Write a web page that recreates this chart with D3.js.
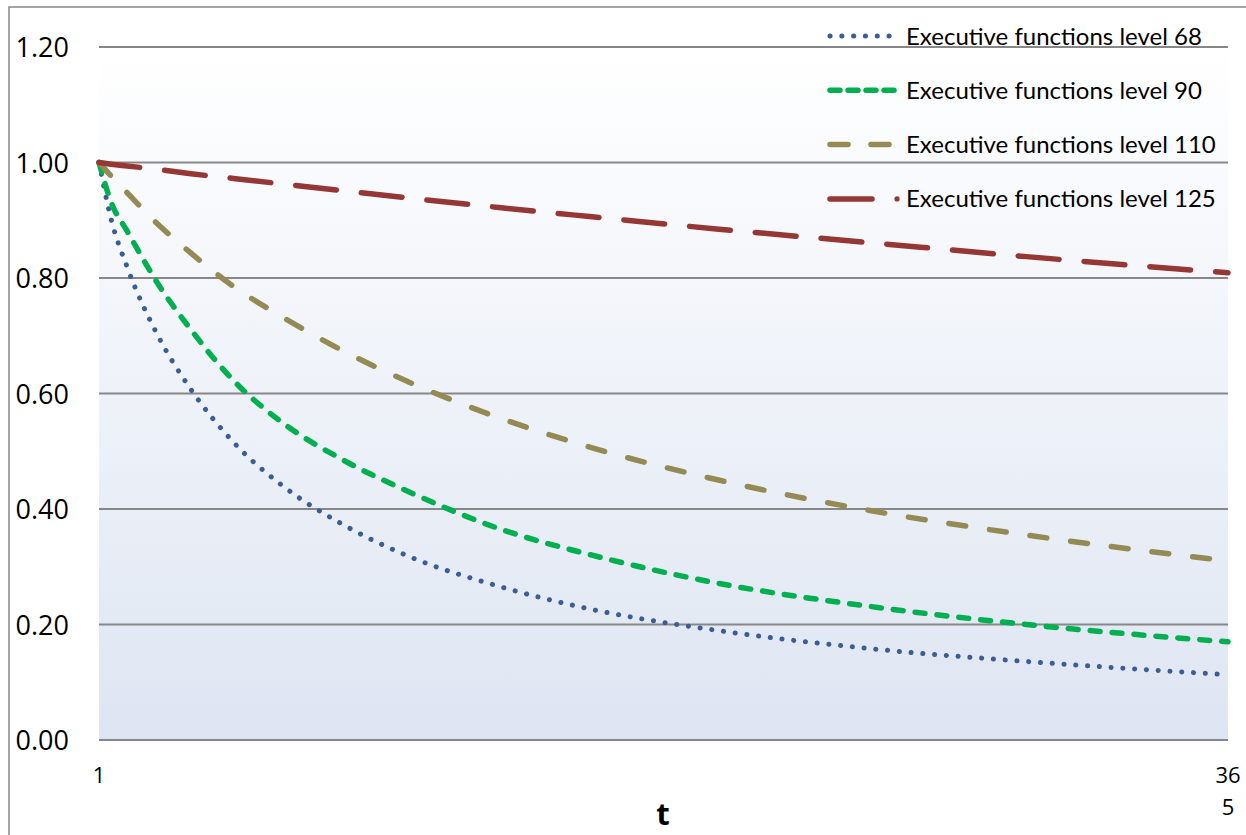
<!DOCTYPE html>
<html>
<head>
<meta charset="utf-8">
<script src="https://cdn.jsdelivr.net/npm/d3@7"></script>
<style>
  body { margin: 0; background: #fff; }
  svg { display: block; font-family: 'Open Sans', sans-serif; }
</style>
</head>
<body>
<svg width="1246" height="835"></svg>
<script>
const days = [1, 5, 10, 20, 30, 45, 60, 80, 100, 130, 160, 200, 250, 300, 365]
const level68  = [1.00, 0.90, 0.82, 0.70, 0.612, 0.512, 0.441, 0.372, 0.320, 0.266, 0.226, 0.190, 0.158, 0.136, 0.113]
const level90  = [1.00, 0.93, 0.882, 0.79, 0.715, 0.619, 0.550, 0.484, 0.432, 0.366, 0.320, 0.272, 0.231, 0.200, 0.170]
const level110 = [1.00, 0.976, 0.948, 0.893, 0.846, 0.783, 0.733, 0.673, 0.622, 0.558, 0.506, 0.451, 0.397, 0.355, 0.310]
const level125 = [1.00, 0.997, 0.994, 0.988, 0.981, 0.972, 0.963, 0.951, 0.939, 0.922, 0.906, 0.885, 0.861, 0.837, 0.809]
const yTicks = [0, 0.2, 0.4, 0.6, 0.8, 1.0, 1.2]
const xTicks = [1, 365]

const series = [
  { name: 'Executive functions level 68',  values: level68,  color: '#3a5d96', width: 5,   dash: '0.1 11.7', legendDash: '0.1 11.7' },
  { name: 'Executive functions level 90',  values: level90,  color: '#00b050', width: 5.5, dash: '10 12',    legendDash: '10 8' },
  { name: 'Executive functions level 110', values: level110, color: '#948a54', width: 5.5, dash: '17 24',    legendDash: '18 23' },
  { name: 'Executive functions level 125', values: level125, color: '#953735', width: 5.5, dash: '41 25',    legendDash: '42 100' }
]

const margin = {top: 47, left: 99, right: 18, bottom: 95}
const width = 1246 - margin.left - margin.right
const height = 835 - margin.top - margin.bottom

const svg = d3.select('svg')

// outer chart frame
svg.append('rect')
   .attr('x', 9).attr('y', 7)
   .attr('width', 1300).attr('height', 900)
   .attr('fill', 'none').attr('stroke', '#868686').attr('stroke-width', 1.5)

const grad = svg.append('defs').append('linearGradient')
   .attr('id', 'bg').attr('x1', 0).attr('y1', 0).attr('x2', 0).attr('y2', 1)
grad.append('stop').attr('offset', '0%').attr('stop-color', '#ffffff')
grad.append('stop').attr('offset', '100%').attr('stop-color', '#dee5f2')

const xScale = d3.scaleLinear().domain([1, 365]).range([0, width])
const yScale = d3.scaleLinear().domain([0, 1.2]).range([height, 0])

const g = svg.append('g').attr('transform', `translate(${margin.left},${margin.top})`)

g.append('rect')
 .attr('width', width).attr('height', height)
 .attr('fill', 'url(#bg)')

// gridlines
g.selectAll('.grid')
 .data(yTicks)
 .enter()
 .append('line')
 .attr('x1', 0).attr('x2', width)
 .attr('y1', d => yScale(d)).attr('y2', d => yScale(d))
 .attr('stroke', '#878787').attr('stroke-width', 1.8)

// y labels
const yAxis = g.append('g')
 .call(d3.axisLeft(yScale).tickValues(yTicks).tickFormat(d3.format('.2f')).tickSize(0).tickPadding(30))
yAxis.select('.domain').remove()
yAxis.selectAll('text')
 .attr('font-family', "'Open Sans', sans-serif")
 .attr('font-size', 27).attr('fill', '#000').attr('dy', '0.36em')

// x labels ("365" wraps in the original)
const xLab = g.append('g').attr('transform', `translate(0,${height})`)
xLab.append('text')
 .attr('x', xScale(xTicks[0])).attr('y', 43)
 .attr('text-anchor', 'middle').attr('font-size', 22).text(xTicks[0])
const last = String(xTicks[1])
const lastText = xLab.append('text')
 .attr('x', xScale(xTicks[1])).attr('y', 43)
 .attr('text-anchor', 'middle').attr('font-size', 22)
lastText.append('tspan').attr('x', xScale(xTicks[1])).text(last.slice(0, 2))
lastText.append('tspan').attr('x', xScale(xTicks[1])).attr('dy', 32).text(last.slice(2))

svg.append('text')
 .attr('x', 663).attr('y', 825)
 .attr('text-anchor', 'middle')
 .attr('font-size', 31).attr('font-weight', 'bold')
 .text('t')

const line = d3.line()
 .x((d, i) => xScale(days[i]))
 .y(d => yScale(d))
 .curve(d3.curveMonotoneX)

g.selectAll('.series')
 .data(series)
 .enter()
 .append('path')
 .attr('d', d => line(d.values))
 .attr('fill', 'none')
 .attr('stroke', d => d.color)
 .attr('stroke-width', d => d.width)
 .attr('stroke-dasharray', d => d.dash)
 .attr('stroke-linecap', 'round')

// legend
const legend = svg.append('g').attr('transform', 'translate(828,36)')
const items = legend.selectAll('.item')
 .data(series)
 .enter()
 .append('g')
 .attr('transform', (d, i) => `translate(0,${i * 54.3})`)
items.append('line')
 .attr('x1', 2).attr('x2', d => d.name.endsWith('125') ? 46 : 67)
 .attr('stroke', d => d.color)
 .attr('stroke-width', d => d.width)
 .attr('stroke-dasharray', d => d.legendDash)
 .attr('stroke-linecap', 'round')
items.filter(d => d.name.endsWith('125'))
 .append('circle').attr('cx', 69).attr('r', 2.6).attr('fill', d => d.color)
items.append('text')
 .attr('x', 78).attr('y', 8.5)
 .attr('font-family', 'Lato, sans-serif')
 .attr('font-size', 24)
 .attr('fill', '#000')
 .text(d => d.name)
</script>
</body>
</html>
